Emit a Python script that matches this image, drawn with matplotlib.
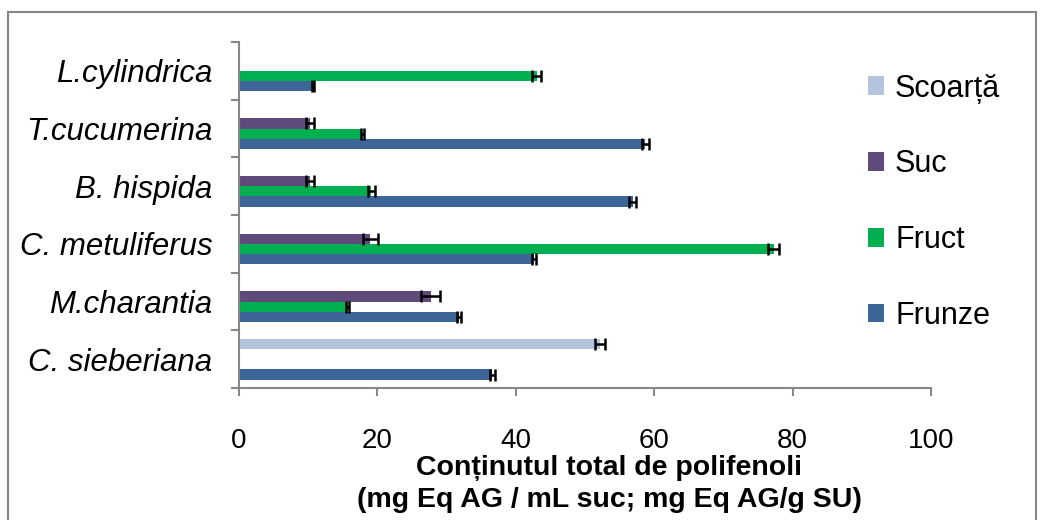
import numpy as np
import matplotlib
matplotlib.use("Agg")
import matplotlib.pyplot as plt
from matplotlib.lines import Line2D

# date
categorii = ["C. sieberiana", "M.charantia", "C. metuliferus", "B. hispida", "T.cucumerina", "L.cylindrica"]
serii = ["Frunze", "Fruct", "Suc", "Scoarță"]

frunze = [36.6, 31.8, 42.6, 56.9, 58.7, 10.7]
frunze_err = [0.35, 0.35, 0.3, 0.5, 0.5, 0.2]
fruct = [np.nan, 15.7, 77.3, 19.1, 17.8, 43.0]
fruct_err = [np.nan, 0.2, 0.8, 0.5, 0.2, 0.6]
suc = [np.nan, 27.7, 19.0, 10.3, 10.3, np.nan]
suc_err = [np.nan, 1.4, 1.1, 0.6, 0.6, np.nan]
scoarta = [52.2, np.nan, np.nan, np.nan, np.nan, np.nan]
scoarta_err = [0.7, np.nan, np.nan, np.nan, np.nan, np.nan]

valori = [frunze, fruct, suc, scoarta]
erori = [frunze_err, fruct_err, suc_err, scoarta_err]
culori = ["#3E6597", "#00B050", "#604A7B", "#B4C4DF"]

gri = "#878787"
fam = ["Liberation Sans", "DejaVu Sans"]

fig = plt.figure(figsize=(10.41, 5.20), dpi=100)
ax = fig.add_axes([239 / 1041, 1 - 388 / 520, (931 - 239) / 1041, (388 - 42) / 520])

y = np.arange(len(categorii))
h = 0.178
for j, (v, e, c) in enumerate(zip(valori, erori, culori)):
    poz = y + (j - 1.5) * h
    ax.barh(poz, v, height=h, color=c, label=serii[j])
    ax.errorbar(v, poz, xerr=e, fmt="none", ecolor="black", elinewidth=1.8,
                capsize=4.5, capthick=1.8)

ax.set_xlim(0, 100)
ax.set_ylim(-0.5, len(categorii) - 0.5)
ax.set_xticks(np.arange(0, 101, 20))
ax.set_yticks(np.arange(-0.5, len(categorii), 1.0))
ax.set_yticklabels([])
ax.set_yticks(y, minor=True)
ax.set_yticklabels(categorii, minor=True, style="italic", fontsize=22.5, family=fam)
ax.tick_params(axis="y", which="minor", length=0, pad=19)
ax.tick_params(axis="y", which="major", length=6, width=1.5, color=gri)
ax.tick_params(axis="x", length=6, width=1.5, color=gri, pad=23, labelsize=20)
for lab in ax.get_xticklabels():
    lab.set_family(fam)

for s in ["top", "right"]:
    ax.spines[s].set_visible(False)
for s in ["left", "bottom"]:
    ax.spines[s].set_color(gri)
    ax.spines[s].set_linewidth(1.5)

fig.text(609 / 1041, 1 - 484 / 520,
         "Conținutul total de polifenoli\n(mg Eq AG / mL suc; mg Eq AG/g SU)",
         ha="center", va="center", ma="center", fontsize=20.5, fontweight="bold",
         linespacing=1.28, family=fam)

# legenda, ordine inversa
handles, labels = ax.get_legend_handles_labels()
leg = fig.legend(handles[::-1], labels[::-1], loc="upper left",
                 bbox_to_anchor=(840 / 1041, 1 - 46 / 520), frameon=False,
                 labelspacing=1.5, handlelength=0.55,
                 handleheight=0.55, handletextpad=0.35,
                 prop={"family": fam, "size": 22})

# chenarul graficului
X0, X1, Y0 = 8 / 1041, 1036 / 1041, 1 - 12 / 520
for xs, ys in [([X0, X0], [0, Y0]), ([X0, X1], [Y0, Y0]), ([X1, X1], [Y0, 0])]:
    fig.add_artist(Line2D(xs, ys, transform=fig.transFigure, color=gri, lw=1.5))

fig.savefig("out.png", dpi=100)
